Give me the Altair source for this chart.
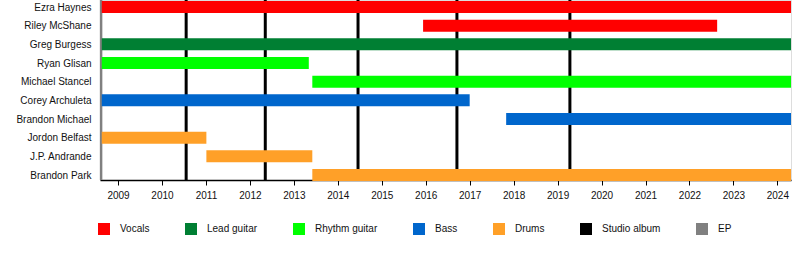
import altair as alt
import pandas as pd

members = ["Ezra Haynes", "Riley McShane", "Greg Burgess", "Ryan Glisan",
           "Michael Stancel", "Corey Archuleta", "Brandon Michael",
           "Jordon Belfast", "J.P. Andrande", "Brandon Park"]
roles = ["Vocals", "Vocals", "Lead guitar", "Rhythm guitar", "Rhythm guitar",
         "Bass", "Bass", "Drums", "Drums", "Drums"]
starts = [2008.63, 2015.94, 2008.63, 2008.63, 2013.42, 2008.63, 2017.83,
          2008.63, 2011.01, 2013.42]
ends = [2024.31, 2022.63, 2024.31, 2013.34, 2024.31, 2017.0, 2024.31,
        2011.01, 2013.42, 2024.31]

albums = [2010.55, 2012.35, 2014.46, 2016.71, 2019.28]
eps = [2008.615]

categories = ["Vocals", "Lead guitar", "Rhythm guitar", "Bass", "Drums",
              "Studio album", "EP"]
colors = ["#ff0000", "#007f33", "#00ff00", "#0066cc", "#ffa028",
          "#000000", "#808080"]
years = list(range(2009, 2025))

X_MIN, X_MAX = 2008.59, 2024.31

bars_df = pd.DataFrame({"member": members, "cat": roles,
                        "start": starts, "end": ends})
alb_df = pd.DataFrame({"x": albums, "cat": ["Studio album"] * len(albums)})
ep_df = pd.DataFrame({"x": eps, "cat": ["EP"] * len(eps)})

xscale = alt.Scale(domain=[X_MIN, X_MAX], nice=False, zero=False)
color = alt.Color(
    "cat:N",
    scale=alt.Scale(domain=categories, range=colors),
    legend=alt.Legend(
        title=None, orient="none", legendX=-2, legendY=223,
        direction="horizontal", columns=7, columnPadding=35,
        symbolType="square", symbolSize=144, symbolStrokeWidth=0,
        symbolOpacity=1, labelOffset=10, labelFontSize=10,
        labelFont="Liberation Sans", labelColor="#111", padding=0,
    ),
)

xaxis = alt.Axis(values=years, format="d", title=None, grid=False,
                 tickSize=5, tickColor="#000", domainColor="#000",
                 domainWidth=1.5, tickWidth=1, labelFontSize=10,
                 labelFont="Liberation Sans", labelColor="#111",
                 labelPadding=5)

album_rules = alt.Chart(alb_df).mark_rule(strokeWidth=3).encode(
    x=alt.X("x:Q", scale=xscale, axis=xaxis),
    color=color,
)
ep_rules = alt.Chart(ep_df).mark_rule(strokeWidth=2.5).encode(
    x=alt.X("x:Q", scale=xscale, axis=xaxis),
    color=color,
)

bars = alt.Chart(bars_df).mark_bar(size=12).encode(
    x=alt.X("start:Q", scale=xscale, axis=xaxis),
    x2="end:Q",
    y=alt.Y("member:N", sort=members,
            scale=alt.Scale(type="point", range=[7, 175], padding=0),
            axis=alt.Axis(title=None, domain=False, ticks=False, tickSize=0,
                          labelPadding=9, labelFontSize=10,
                          labelFont="Liberation Sans", labelColor="#111")),
    color=color,
)

chart = alt.layer(album_rules, ep_rules, bars).properties(
    width=691, height=180,
    autosize=alt.AutoSizeParams(type="none"),
    padding={"left": 100, "top": 0, "right": 9, "bottom": 100},
).configure_view(stroke=None).configure(background="white")

chart.save("out.html", embed_options={"renderer": "svg", "actions": False})
